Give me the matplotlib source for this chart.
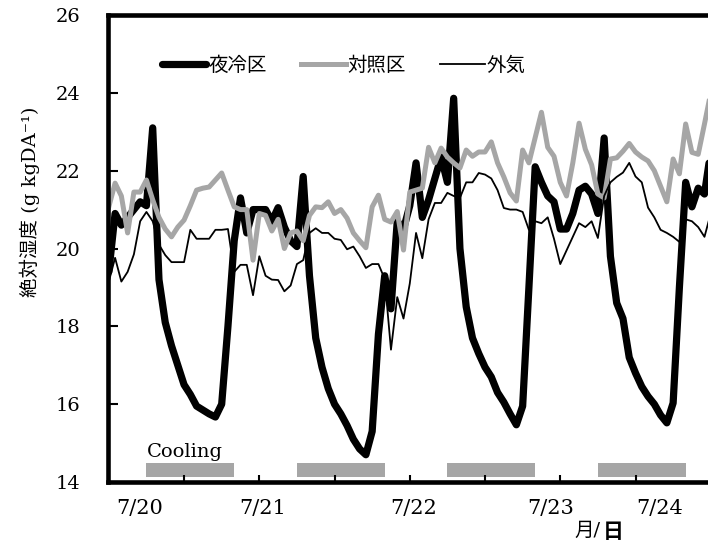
import numpy as np
import matplotlib
matplotlib.use("Agg")
import matplotlib.pyplot as plt

plt.rcParams['font.family'] = ['DejaVu Serif', 'Noto Sans CJK JP']

# 1時間ごとの絶対湿度 (g kgDA-1)、7/19 12:00 から
yarei = [19.4, 20.9, 20.6, 20.8, 21.0, 21.2, 21.1, 23.1, 19.2, 18.1,
         17.5, 17.0, 16.5, 16.25, 15.95, 15.85, 15.75, 15.67, 16.0, 18.0,
         20.2, 21.3, 20.4, 21.0, 21.0, 21.0, 20.7, 21.05, 20.55, 20.2,
         20.05, 21.85, 19.3, 17.7, 16.95, 16.4, 16.0, 15.75, 15.45, 15.1,
         14.85, 14.7, 15.3, 17.8, 19.3, 18.45, 20.7, 20.5, 21.1, 22.2,
         20.8, 21.25, 21.8, 22.35, 21.7, 23.86, 20.0, 18.5, 17.7, 17.3,
         16.95, 16.7, 16.3, 16.05, 15.75, 15.47, 15.95, 19.0, 22.1, 21.7,
         21.35, 21.2, 20.5, 20.5, 20.9, 21.5, 21.6, 21.4, 20.9, 22.84,
         19.8, 18.6, 18.2, 17.2, 16.8, 16.45, 16.2, 16.0, 15.72, 15.52,
         16.03, 19.0, 21.7, 21.07, 21.55, 21.4, 22.5]

taisho = [21.07, 21.68, 21.35, 20.4, 21.45, 21.45, 21.76, 21.25, 20.8, 20.5,
          20.3, 20.55, 20.73, 21.1, 21.5, 21.55, 21.58, 21.76, 21.94, 21.5,
          21.07, 21.0, 21.0, 19.7, 20.9, 20.85, 20.45, 20.75, 20.0, 20.4,
          20.45, 20.2, 20.85, 21.07, 21.05, 21.2, 20.9, 21.0, 20.78, 20.4,
          20.2, 20.02, 21.07, 21.37, 20.75, 20.68, 20.95, 19.96, 21.45, 21.5,
          21.55, 22.6, 22.2, 22.58, 22.35, 22.2, 22.07, 22.53, 22.37, 22.48,
          22.48, 22.74, 22.2, 21.84, 21.43, 21.22, 22.53, 22.2, 22.85, 23.5,
          22.6, 22.37, 21.7, 21.35, 22.2, 23.22, 22.55, 22.15, 21.4, 21.3,
          22.3, 22.33, 22.5, 22.7, 22.48, 22.35, 22.25, 22.0, 21.6, 21.2,
          22.3, 21.92, 23.2, 22.47, 22.42, 23.2, 24.0]

gaiki = [19.15, 19.76, 19.15, 19.4, 19.85, 20.7, 20.94, 20.7, 20.1, 19.83,
         19.65, 19.65, 19.65, 20.48, 20.25, 20.25, 20.25, 20.48, 20.48, 20.5,
         19.4, 19.58, 19.58, 18.8, 19.8, 19.3, 19.2, 19.19, 18.9, 19.05,
         19.6, 19.7, 20.4, 20.52, 20.4, 20.4, 20.25, 20.22, 19.98, 20.05,
         19.8, 19.5, 19.6, 19.6, 19.22, 17.4, 18.75, 18.2, 19.1, 20.4,
         19.75, 20.75, 21.17, 21.17, 21.43, 21.35, 21.3, 21.7, 21.7, 21.94,
         21.9, 21.8, 21.5, 21.04, 21.0, 21.0, 20.94, 20.48, 20.7, 20.65,
         20.8, 20.25, 19.6, 19.95, 20.3, 20.65, 20.55, 20.7, 20.27, 21.35,
         21.7, 21.84, 21.95, 22.2, 21.85, 21.7, 21.05, 20.8, 20.48, 20.4,
         20.3, 20.17, 20.75, 20.7, 20.55, 20.3, 20.9]

hours = np.arange(len(yarei))

# 冷房期間 (開始時刻, 継続時間)
cooling_start = [6, 30, 54, 78]
cooling_len = 14

date_labels = ['7/20', '7/21', '7/22', '7/23', '7/24']
date_label_hours = [5.0, 24.6, 48.6, 70.4, 87.9]

W, H = 708, 544
fig = plt.figure(figsize=(W / 100, H / 100), dpi=100)
ax = fig.add_axes([108 / W, 1 - 482 / H, 604 / W, 467 / H])

ax.plot(hours, yarei, color='black', lw=5.2, label='夜冷区', solid_capstyle='round')
ax.plot(hours, taisho, color='#a6a6a6', lw=3.6, label='対照区')
ax.plot(hours, gaiki, color='black', lw=1.3, label='外気')

ax.broken_barh([(s, cooling_len) for s in cooling_start], (14.13, 0.36),
               facecolor='#a6a6a6', edgecolor='none')
ax.text(6.1, 14.55, 'Cooling', fontsize=14, ha='left', va='bottom')

ax.set_xlim(-0.13, 96.2)
ax.set_ylim(14, 26)
ax.set_yticks(np.arange(14, 27, 2))
ax.set_xticks(np.arange(12, 96, 12))
ax.set_xticklabels([])

for side in ['left', 'bottom', 'top']:
    ax.spines[side].set_linewidth(3.3)
ax.spines['right'].set_visible(False)

ax.tick_params(axis='y', direction='in', length=7, width=1.5, labelsize=14, pad=20)
ax.tick_params(axis='x', direction='in', length=5, width=1.5)

# 日付ラベル
for lab, h in zip(date_labels, date_label_hours):
    ax.text(h, -0.056, lab, transform=ax.get_xaxis_transform(),
            ha='center', va='center', fontsize=15)

fig.text(601 / W, 1 - 531 / H, '月/', ha='right', va='center', fontsize=14)
fig.text(603 / W, 1 - 531 / H, '日', ha='left', va='center', fontsize=15,
         fontweight='bold', family='Noto Sans CJK JP')

fig.text(30 / W, 1 - 202 / H, '絶対湿度 (g kgDA⁻¹)', rotation=90,
         ha='center', va='center', fontsize=14)

ax.legend(loc='upper left', bbox_to_anchor=(0.06, 0.952), ncol=3, frameon=False,
          handlelength=2.3, handletextpad=0.1, columnspacing=1.75,
          prop={'family': ['Noto Sans CJK JP'], 'size': 14})

fig.savefig('out.png', dpi=100)
